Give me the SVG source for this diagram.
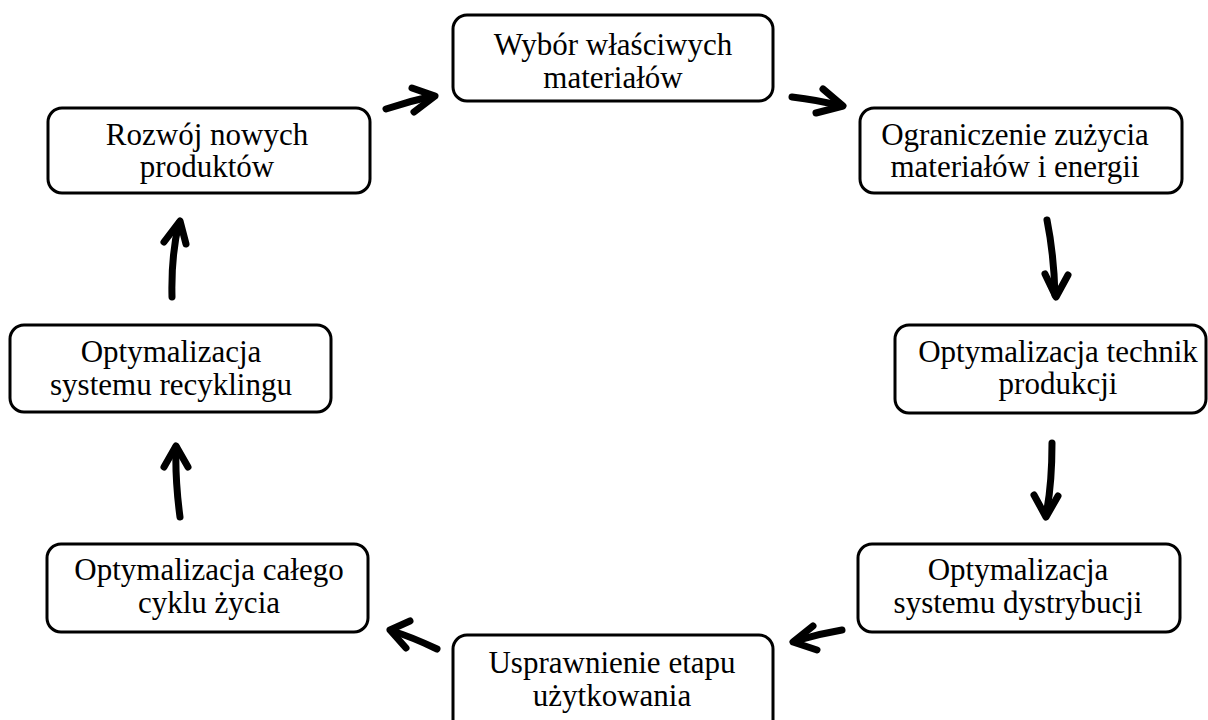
<svg xmlns="http://www.w3.org/2000/svg" width="1208" height="720" viewBox="0 0 1208 720">
<style>
.box{fill:#fff;stroke:#000;stroke-width:3}
.t{font-family:"Liberation Serif","Times New Roman",serif;font-size:31px;fill:#000;text-anchor:middle}
.c{fill:none;stroke:#000;stroke-width:7;stroke-linecap:round;stroke-linejoin:round}
</style>
<rect width="1208" height="720" fill="#fff"/>
<g id="n1"><rect class="box" x="453" y="15" width="320" height="86" rx="14"/><text class="t" x="613" y="55">Wybór właściwych</text><text class="t" x="613" y="88">materiałów</text></g>
<g id="n2"><rect class="box" x="48" y="108" width="322" height="85" rx="14"/><text class="t" x="207" y="145">Rozwój nowych</text><text class="t" x="207" y="177">produktów</text></g>
<g id="n3"><rect class="box" x="860" y="108" width="322" height="85" rx="14"/><text class="t" x="1015" y="145">Ograniczenie zużycia</text><text class="t" x="1015" y="177">materiałów i energii</text></g>
<g id="n4"><rect class="box" x="895" y="325" width="311" height="88" rx="14"/><text class="t" x="1058" y="362">Optymalizacja technik</text><text class="t" x="1058" y="394">produkcji</text></g>
<g id="n5"><rect class="box" x="10" y="325" width="321" height="87" rx="14"/><text class="t" x="171" y="362">Optymalizacja</text><text class="t" x="171" y="395">systemu recyklingu</text></g>
<g id="n6"><rect class="box" x="47" y="544" width="321" height="88" rx="14"/><text class="t" x="209" y="580">Optymalizacja całego</text><text class="t" x="209" y="613">cyklu życia</text></g>
<g id="n7"><rect class="box" x="858" y="544" width="322" height="88" rx="14"/><text class="t" x="1018" y="580">Optymalizacja</text><text class="t" x="1018" y="613">systemu dystrybucji</text></g>
<g id="n8"><rect class="box" x="453" y="635" width="320" height="100" rx="14"/><text class="t" x="612" y="673">Usprawnienie etapu</text><text class="t" x="612" y="706">użytkowania</text></g>
<g id="connectors">
<path class="c" d="M386,109 Q410,101 433,96"/><path class="c" d="M412,88 L435,96 L414,112"/>
<path class="c" d="M792,97 Q818,100 841,106"/><path class="c" d="M823,89 L843,106 L816,113"/>
<path class="c" d="M1047,220 Q1054,255 1055,295"/><path class="c" d="M1045,274 L1056,297 L1068,275"/>
<path class="c" d="M1052,443 Q1052,485 1046,515"/><path class="c" d="M1034,495 L1046,517 L1058,496"/>
<path class="c" d="M842,630 Q818,634 795,641"/><path class="c" d="M813,626 L793,642 L817,650"/>
<path class="c" d="M437,649 Q412,637 392,631"/><path class="c" d="M410,621 L390,630 L406,648"/>
<path class="c" d="M180,517 Q175,480 176,447"/><path class="c" d="M164,467 L176,446 L188,467"/>
<path class="c" d="M172,297 Q171,255 179,223"/><path class="c" d="M164,242 L180,221 L186,244"/>
</g>
</svg>
